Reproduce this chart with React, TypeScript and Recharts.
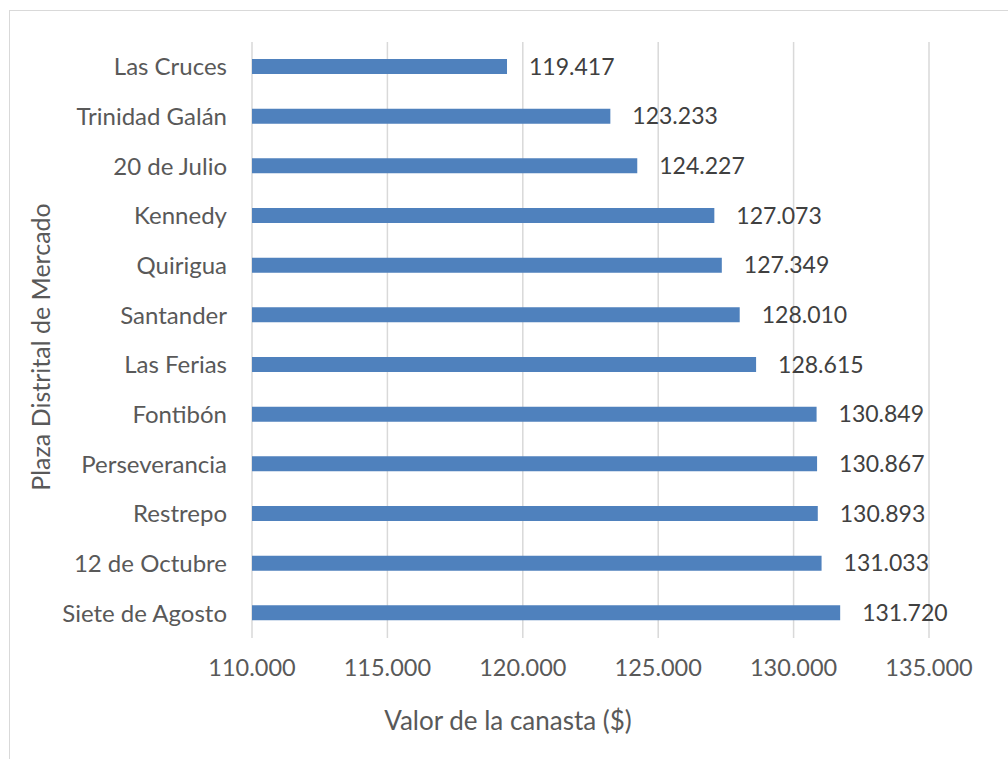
import { BarChart, Bar, XAxis, YAxis, CartesianGrid, LabelList, Label } from 'recharts'

const plazas = [
  'Las Cruces', 'Trinidad Galán', '20 de Julio', 'Kennedy', 'Quirigua', 'Santander',
  'Las Ferias', 'Fontibón', 'Perseverancia', 'Restrepo', '12 de Octubre', 'Siete de Agosto',
]
const valores = [
  119417, 123233, 124227, 127073, 127349, 128010,
  128615, 130849, 130867, 130893, 131033, 131720,
]
const xTicks = [110000, 115000, 120000, 125000, 130000, 135000]

const data = plazas.map((name, i) => ({ name, valor: valores[i] }))

// 119417 -> "119.417"
const fmt = (v: number) => String(Math.round(v)).replace(/\B(?=(\d{3})+(?!\d))/g, '.')

const FONT = 'Lato, "Open Sans", sans-serif'

export default function App() {
  return (
    <div style={{ position: 'absolute', left: 0, top: 0, width: 1008, height: 759, background: '#fff', overflow: 'hidden' }}>
      <div style={{
        position: 'absolute', left: 9, top: 10, width: 1020, height: 780,
        border: '1.5px solid #d9d9d9', boxSizing: 'border-box',
      }} />
      <div style={{ position: 'absolute', left: 0, top: 0 }}>
        <BarChart
          width={1008}
          height={759}
          data={data}
          layout="vertical"
          margin={{ top: 42, right: 79, left: 0, bottom: 0 }}
          style={{ fontFamily: FONT }}
        >
          <CartesianGrid horizontal={false} stroke="#d9d9d9" strokeWidth={1.5} />
          <XAxis
            type="number"
            domain={[110000, 135000]}
            ticks={xTicks}
            tickFormatter={fmt}
            axisLine={false}
            tickLine={false}
            tickSize={0}
            tickMargin={21}
            height={121}
            tick={{ fontSize: 23.5, fill: '#595959' }}
          >
            <Label
              content={({ viewBox }: any) => (
                <text
                  x={508}
                  y={viewBox.y + 82}
                  textAnchor="middle"
                  dominantBaseline="central"
                  fontSize={26}
                  fill="#595959"
                >
                  Valor de la canasta ($)
                </text>
              )}
            />
          </XAxis>
          <YAxis
            type="category"
            dataKey="name"
            width={252}
            axisLine={false}
            tickLine={false}
            tickSize={0}
            tickMargin={25}
            interval={0}
            tick={{ fontSize: 24, fill: '#595959' }}
          >
            <Label
              content={({ viewBox }: any) => {
                const cy = viewBox.y + viewBox.height / 2 + 7
                return (
                  <text
                    x={40}
                    y={cy}
                    transform={`rotate(-90, 40, ${cy})`}
                    textAnchor="middle"
                    dominantBaseline="central"
                    fontSize={25}
                    fill="#595959"
                  >
                    Plaza Distrital de Mercado
                  </text>
                )
              }}
            />
          </YAxis>
          <Bar dataKey="valor" fill="#4f81bd" barSize={15} isAnimationActive={false}>
            <LabelList
              dataKey="valor"
              position="right"
              offset={22}
              formatter={(v: any) => fmt(Number(v))}
              style={{ fontSize: 23, fill: '#404040' }}
            />
          </Bar>
        </BarChart>
      </div>
    </div>
  )
}
